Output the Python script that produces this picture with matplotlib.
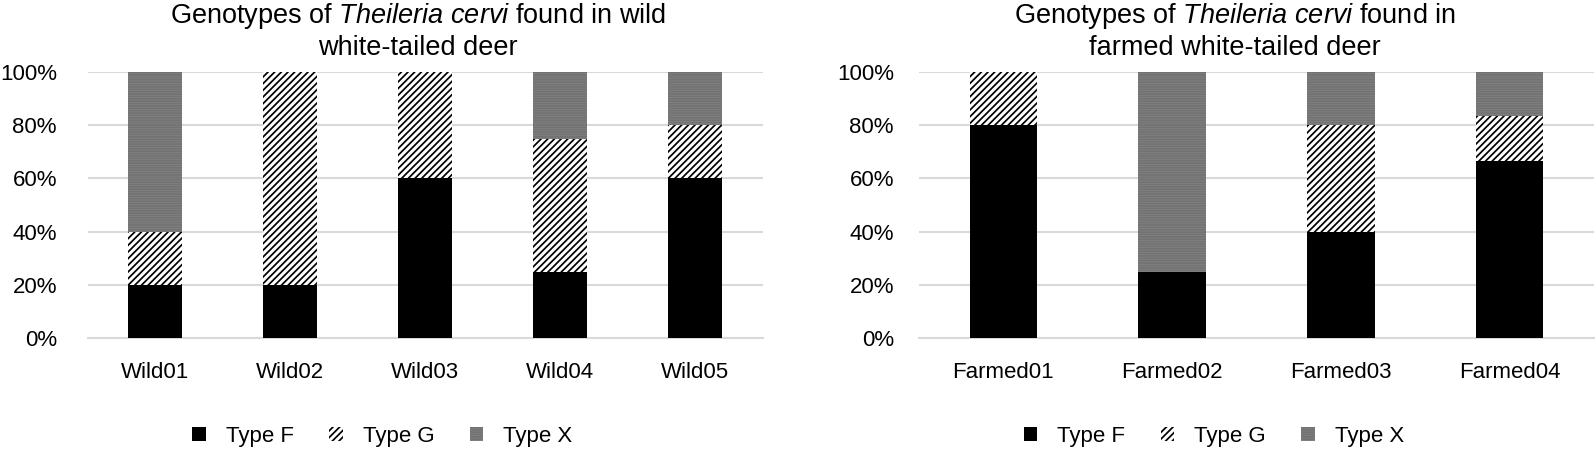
import matplotlib
matplotlib.use("Agg")
import matplotlib.pyplot as plt
from matplotlib.patches import Patch
from matplotlib.ticker import PercentFormatter

plt.rcParams['font.family'] = ['Liberation Sans', 'DejaVu Sans']
plt.rcParams['mathtext.fontset'] = 'custom'
plt.rcParams['mathtext.rm'] = 'Liberation Sans'
plt.rcParams['mathtext.it'] = 'Liberation Sans:italic'
plt.rcParams['hatch.linewidth'] = 1.25

wild_samples = ["Wild01", "Wild02", "Wild03", "Wild04", "Wild05"]
wild_F = [20, 20, 60, 25, 60]
wild_G = [20, 80, 40, 50, 20]
wild_X = [60, 0, 0, 25, 20]

farmed_samples = ["Farmed01", "Farmed02", "Farmed03", "Farmed04"]
farmed_F = [80, 25, 40, 66.7]
farmed_G = [20, 0, 40, 16.7]
farmed_X = [0, 75, 20, 16.6]

series_names = ["Type F", "Type G", "Type X"]
yticks = [0, 20, 40, 60, 80, 100]

styles = [
    dict(facecolor="black", edgecolor="black", linewidth=0),
    dict(facecolor="white", edgecolor="black", hatch="/////", linewidth=0),
    dict(facecolor="#868686", edgecolor="#727272", hatch="-------", linewidth=0),
]

W, H = 1595, 450
fig = plt.figure(figsize=(W/100, H/100), dpi=100)
ax1 = fig.add_axes([87.5/W, 1-338/H, 675/W, (338-72)/H])
ax2 = fig.add_axes([919/W, 1-338/H, 675/W, (338-72)/H])

def draw(ax, cats, F, G, X, ypad):
    x = list(range(len(cats)))
    bottom = [0]*len(cats)
    for vals, st in zip([F, G, X], styles):
        ax.bar(x, vals, width=0.4, bottom=bottom, zorder=3, **st)
        bottom = [b+v for b, v in zip(bottom, vals)]
    ax.set_ylim(0, 100)
    ax.set_xlim(-0.5, len(cats)-0.5)
    ax.set_yticks(yticks)
    ax.yaxis.set_major_formatter(PercentFormatter(decimals=0))
    ax.set_xticks(x)
    ax.set_xticklabels(cats)
    ax.tick_params(length=0, labelsize=16)
    ax.tick_params(axis='y', pad=ypad)
    ax.tick_params(axis='x', pad=17)
    ax.grid(axis='y', color="#d9d9d9", linewidth=1.5, zorder=0)
    for s in ["top", "right", "left"]:
        ax.spines[s].set_visible(False)
    ax.spines["bottom"].set_color("#d9d9d9")
    ax.spines["bottom"].set_linewidth(1.5)

draw(ax1, wild_samples, wild_F, wild_G, wild_X, 22)
draw(ax2, farmed_samples, farmed_F, farmed_G, farmed_X, 18)

ax1.set_title(r"Genotypes of $\it{Theileria\ cervi}$ found in wild" + "\nwhite-tailed deer",
              fontsize=19.5, pad=12, linespacing=1.22, x=0.49)
ax2.set_title(r"Genotypes of $\it{Theileria\ cervi}$ found in" + "\nfarmed white-tailed deer",
              fontsize=19.5, pad=12, linespacing=1.22, x=0.468)

handles = [Patch(**st) for st in styles]
for ax in (ax1, ax2):
    ax.legend(handles, series_names, loc="center", bbox_to_anchor=(0.437, -0.37),
              ncol=3, frameon=False, fontsize=16, handlelength=0.6, handleheight=0.6,
              columnspacing=1.6, handletextpad=0.9)

fig.savefig("out.png", dpi=100)
